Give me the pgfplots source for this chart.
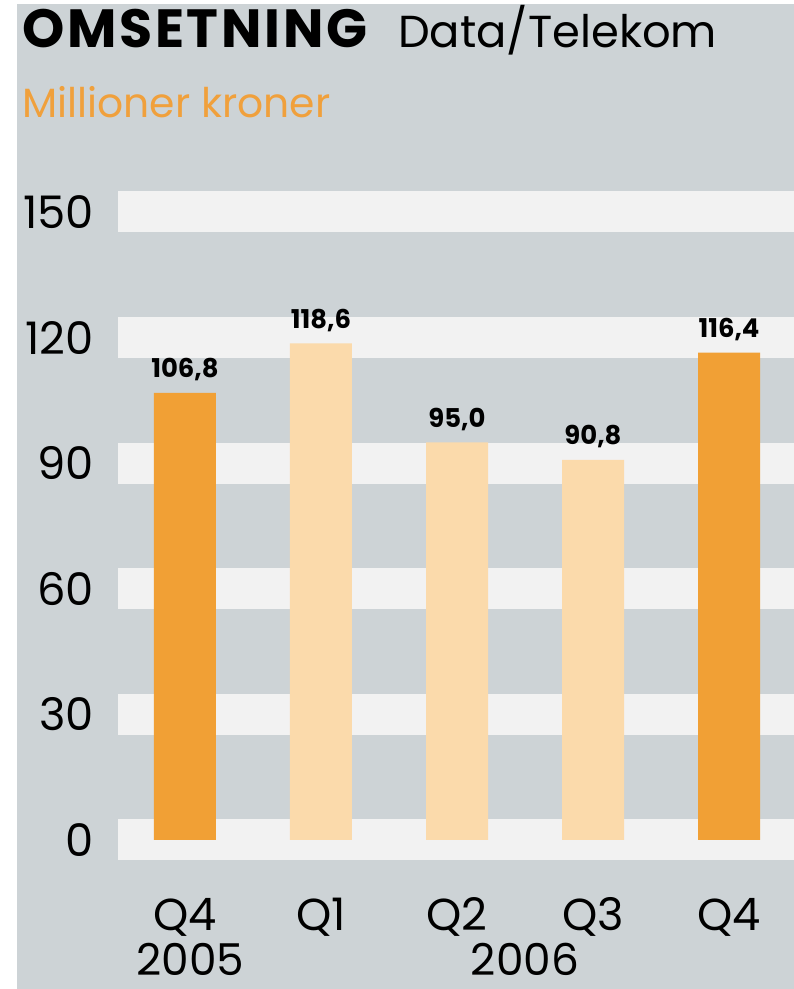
\documentclass[border=0pt]{standalone}
\usepackage{fontspec}
\setmainfont{Poppins}
\usepackage{pgfplots}
\pgfplotsset{compat=1.18}
\definecolor{bgc}{RGB}{205,211,214}
\definecolor{band}{RGB}{242,242,242}
\definecolor{dorange}{RGB}{241,160,53}
\definecolor{peach}{RGB}{251,218,171}
\definecolor{subor}{RGB}{240,160,60}
\begin{document}
\begin{tikzpicture}[x=1bp,y=1bp]
\fill[white] (0,0) rectangle (794,989);
\fill[bgc] (17,0) rectangle (794,985);
\path[use as bounding box] (0,0) rectangle (794,989);
\node[anchor=base west, inner sep=0] at (22,941) {\fontsize{54}{58}\selectfont\bfseries\addfontfeature{LetterSpace=5}OMSETNING};
\node[anchor=base west, inner sep=0] at (398,941) {\fontsize{45}{50}\selectfont Data/Telekom};
\node[anchor=base west, inner sep=0, text=subor] at (22,871) {\fontsize{41}{45}\selectfont Millioner kroner};
\begin{axis}[
  at={(118bp,149bp)}, anchor=south west,
  scale only axis, width=676bp, height=628bp,
  xmin=-0.4926, xmax=4.478, ymin=0, ymax=150,
  clip=false,
  axis line style={draw=none},
  major tick length=0pt,
  ytick={0,30,60,90,120,150},
  ymajorgrids,
  grid style={line width=41bp, color=band},
  xtick={0,1,2,3,4},
  xticklabels={Q4,Q1,Q2,Q3,Q4},
  /pgf/number format/assume math mode=true,
  ticklabel style={font=\fontsize{45}{50}\selectfont},
  yticklabel style={anchor=east, inner sep=0pt, xshift=-24bp},
  xticklabel style={anchor=base, inner sep=0pt, yshift=-90bp},
  ybar, bar width=62bp,
  nodes near coords,
  every node near coord/.append style={anchor=base, inner sep=0pt, yshift=15bp, font=\fontsize{26}{28}\selectfont\bfseries, text=black,
    /pgf/number format/.cd, fixed, fixed zerofill, precision=1, use comma, assume math mode=true},
]
\addplot[fill=dorange, draw=none, bar shift=0pt] coordinates {(0,106.8) (4,116.4)};
\addplot[fill=peach, draw=none, bar shift=0pt] coordinates {(1,118.6) (2,95.0) (3,90.8)};
\node[anchor=base, inner sep=0pt, font=\fontsize{44}{50}\selectfont] at (axis cs:0.04,-32.3) {2005};
\node[anchor=base, inner sep=0pt, font=\fontsize{44}{50}\selectfont] at (axis cs:2.5,-32.3) {2006};
\end{axis}
\end{tikzpicture}
\end{document}
